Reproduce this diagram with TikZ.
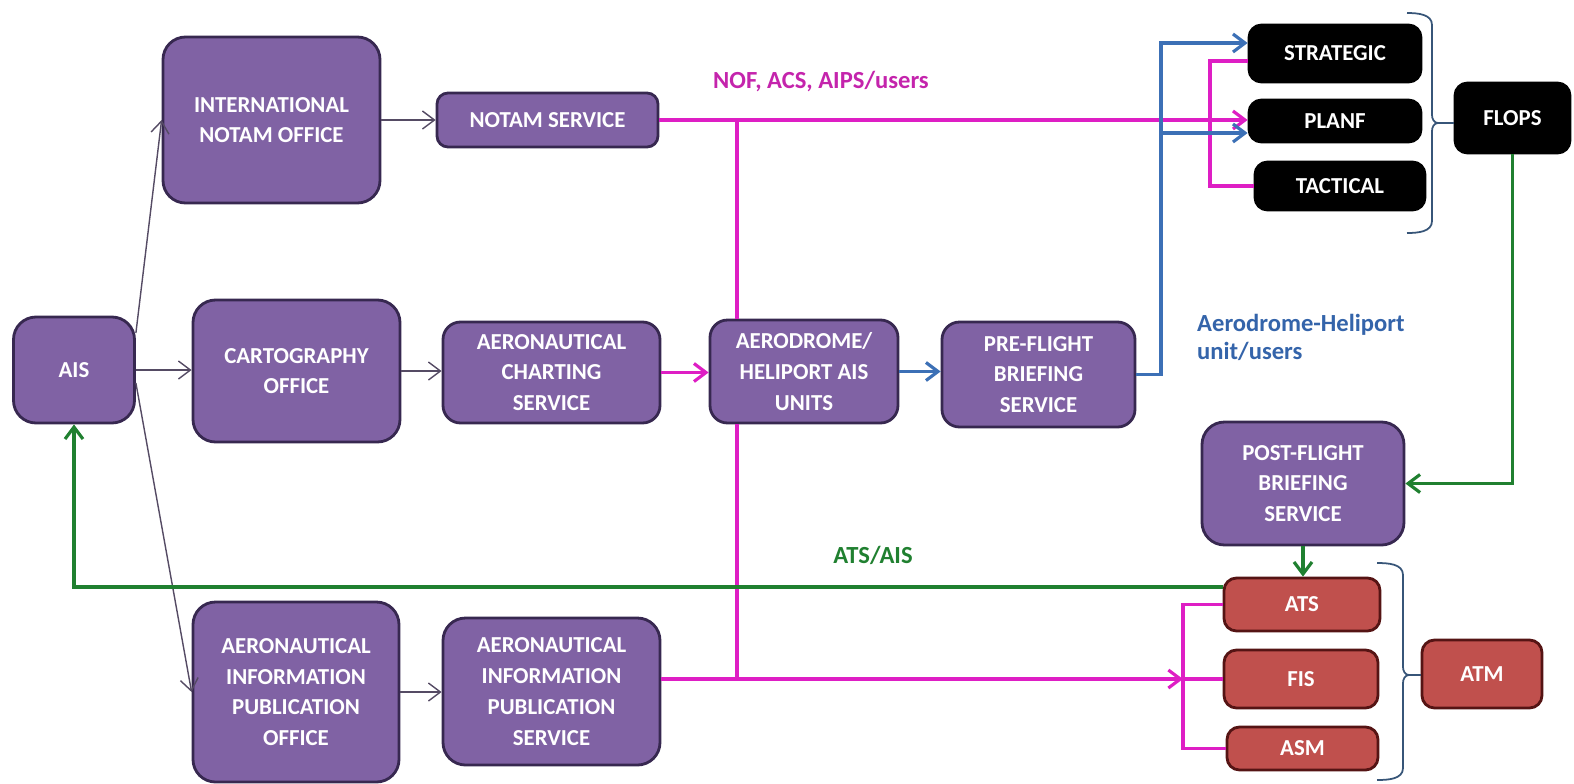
\documentclass[tikz,border=0pt]{standalone}
\usepackage{fontspec}
\setmainfont{Carlito}
\usepackage{tikz}
\usetikzlibrary{arrows.meta, positioning, calc}

\definecolor{boxpurple}{RGB}{128,98,164}
\definecolor{edgepurple}{RGB}{55,40,80}
\definecolor{boxred}{RGB}{192,80,77}
\definecolor{edgered}{RGB}{85,20,20}
\definecolor{linkpink}{RGB}{222,30,196}
\definecolor{textpink}{RGB}{196,36,172}
\definecolor{linkblue}{RGB}{60,112,182}
\definecolor{textblue}{RGB}{52,100,170}
\definecolor{linkgreen}{RGB}{32,128,48}
\definecolor{linkgrey}{RGB}{85,75,100}
\definecolor{bracegrey}{RGB}{55,85,120}

\begin{document}
\begin{tikzpicture}[>={Straight Barb[length=2.4mm,width=3.6mm]},
    box/.style={rounded corners=0.45cm, line width=1.6pt, align=center, text=white, font=\fontsize{13}{17.5}\selectfont\bfseries, inner sep=2pt},
    purplebox/.style={box, fill=boxpurple, draw=edgepurple},
    redbox/.style={box, fill=boxred, draw=edgered, rounded corners=0.25cm},
    blackbox/.style={box, fill=black, draw=black, rounded corners=0.25cm},
    greylink/.style={->, draw=linkgrey, line width=0.8pt},
    pinklink/.style={draw=linkpink, line width=1.8pt},
    bluelink/.style={draw=linkblue, line width=1.8pt},
    greenlink/.style={draw=linkgreen, line width=1.8pt},
    bracelink/.style={draw=bracegrey, line width=1pt},
    flowlabel/.style={font=\fontsize{14}{16}\selectfont\bfseries}]

    \useasboundingbox (0,0) rectangle (31.48,-15.66);

    % Draw the purple offices and services
    \node[purplebox, minimum width=2.42cm, minimum height=2.12cm] (ais) at (1.48,-7.40) {AIS};
    \node[purplebox, minimum width=4.34cm, minimum height=3.32cm] (ino) at (5.43,-2.40) {INTERNATIONAL\\NOTAM OFFICE};
    \node[purplebox, minimum width=4.42cm, minimum height=1.08cm, rounded corners=0.22cm] (notam) at (10.95,-2.40) {NOTAM SERVICE};
    \node[purplebox, minimum width=4.14cm, minimum height=2.84cm] (carto) at (5.93,-7.42) {CARTOGRAPHY\\OFFICE};
    \node[purplebox, minimum width=4.34cm, minimum height=2.02cm, rounded corners=0.35cm] (acs) at (11.03,-7.45) {AERONAUTICAL\\CHARTING\\SERVICE};
    \node[purplebox, minimum width=3.76cm, minimum height=2.06cm, rounded corners=0.35cm] (aero) at (16.08,-7.43) {AERODROME/\\HELIPORT AIS\\UNITS};
    \node[purplebox, minimum width=3.86cm, minimum height=2.10cm, rounded corners=0.35cm] (pfb) at (20.77,-7.49) {PRE-FLIGHT\\BRIEFING\\SERVICE};
    \node[purplebox, minimum width=4.12cm, minimum height=3.60cm] (aipo) at (5.92,-13.84) {AERONAUTICAL\\INFORMATION\\PUBLICATION\\OFFICE};
    \node[purplebox, minimum width=4.34cm, minimum height=2.94cm] (aips) at (11.03,-13.83) {AERONAUTICAL\\INFORMATION\\PUBLICATION\\SERVICE};
    \node[purplebox, minimum width=4.04cm, minimum height=2.46cm] (pofb) at (26.06,-9.67) {POST-FLIGHT\\BRIEFING\\SERVICE};

    % Draw the red ATM boxes
    \node[redbox, minimum width=3.12cm, minimum height=1.06cm] (ats) at (26.04,-12.09) {ATS};
    \node[redbox, minimum width=3.08cm, minimum height=1.16cm] (fis) at (26.02,-13.58) {FIS};
    \node[redbox, minimum width=3.02cm, minimum height=0.86cm] (asm) at (26.05,-14.97) {ASM};
    \node[redbox, minimum width=2.40cm, minimum height=1.36cm] (atm) at (29.64,-13.48) {ATM};

    % Draw the black FLOPS boxes
    \node[blackbox, minimum width=3.44cm, minimum height=1.14cm] (strat) at (26.70,-1.07) {STRATEGIC};
    \node[blackbox, minimum width=3.44cm, minimum height=0.84cm] (planf) at (26.70,-2.42) {PLANF};
    \node[blackbox, minimum width=3.40cm, minimum height=0.96cm] (tact) at (26.80,-3.72) {TACTICAL};
    \node[blackbox, minimum width=2.30cm, minimum height=1.40cm] (flops) at (30.25,-2.36) {FLOPS};

    % Grey links out of AIS
    \draw[greylink] ($(ais.east)+(0,0.74)$) -- (ino.west);
    \draw[greylink] (ais.east) -- (ais.east -| carto.west);
    \draw[greylink] ($(ais.east)+(0,-0.26)$) -- (aipo.west);
    \draw[greylink] (ino.east) -- (ino.east -| notam.west);
    \draw[greylink] (carto.east) -- (carto.east -| acs.west);
    \draw[greylink] (aipo.east) -- (aipo.east -| aips.west);

    % Pink links (NOF, ACS, AIPS)
    \coordinate (nofsplit) at (14.74,-2.40);
    \coordinate (fisjoin) at (23.66,-13.58);
    \coordinate (planfjoin) at (24.20,-2.42);
    \draw[pinklink, ->] (notam.east) -- (notam.east -| planf.west);
    \draw[pinklink] (nofsplit) -- (nofsplit |- aero.north);
    \draw[pinklink] (nofsplit |- aero.south) -- (nofsplit |- fis.west);
    \draw[pinklink, ->] (acs.east) -- (acs.east -| aero.west);
    \draw[pinklink, ->] (aips.east |- fis.west) -- (fisjoin);
    \draw[pinklink] (ats.west) -| (fisjoin) |- (asm.west);
    \draw[pinklink] (fisjoin) -- (fis.west);
    \draw[pinklink] ($(strat.west)+(0,-0.15)$) -| (planfjoin) |- (tact.west);

    % Blue links (aerodrome units)
    \coordinate (bluesplit) at (23.22,-2.66);
    \draw[bluelink, ->] (aero.east) -- (aero.east -| pfb.west);
    \draw[bluelink, ->] (pfb.east) -| (bluesplit) |- ($(strat.west)+(0,0.21)$);
    \draw[bluelink, ->] (bluesplit) -- (bluesplit -| planf.west);

    % Green links (ATS/AIS)
    \draw[greenlink, ->] (flops.south) |- (pofb.east);
    \draw[greenlink, ->] (pofb.south) -- (pofb.south |- ats.north);
    \draw[greenlink, ->] ($(ats.west)+(0,0.35)$) -| (ais.south);

    % Braces
    \coordinate (flopstip) at (28.76,-2.46);
    \draw[bracelink] (28.14,-0.26) to[out=0,in=90] (28.64,-0.50) -- (28.64,-2.30) to[out=-90,in=180] (flopstip) to[out=180,in=90] (28.64,-2.62) -- (28.64,-4.42) to[out=-90,in=0] (28.14,-4.66);
    \draw[bracelink] (flopstip) -- (flopstip -| flops.west);
    \coordinate (atmtip) at (28.18,-13.50);
    \draw[bracelink] (27.54,-11.26) to[out=0,in=90] (28.06,-11.50) -- (28.06,-13.34) to[out=-90,in=180] (atmtip) to[out=180,in=90] (28.06,-13.66) -- (28.06,-15.36) to[out=-90,in=0] (27.54,-15.60);
    \draw[bracelink] (atmtip) -- (atmtip -| atm.west);

    % Labels
    \node[flowlabel, text=textpink] (noflabel) at (16.42,-1.64) {NOF, ACS, AIPS/users};
    \node[flowlabel, text=textblue, align=left, anchor=west] (unitlabel) at (23.82,-6.74) {Aerodrome-Heliport\\unit/users};
    \node[flowlabel, text=linkgreen] (atslabel) at (17.46,-11.10) {ATS/AIS};
\end{tikzpicture}
\end{document}
